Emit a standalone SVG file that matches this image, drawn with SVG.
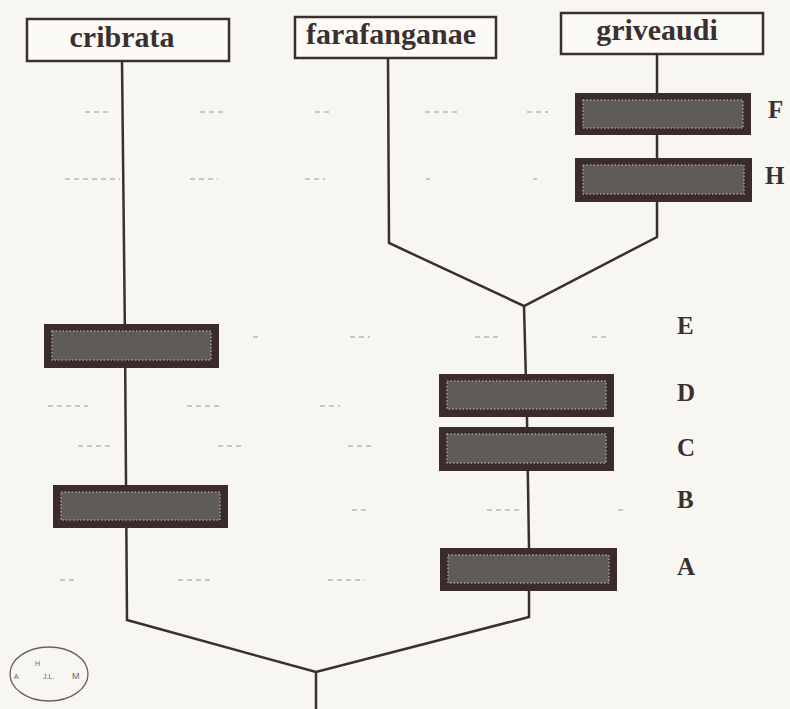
<svg xmlns="http://www.w3.org/2000/svg" width="790" height="709" viewBox="0 0 790 709">
<defs>
<style>
.bg{fill:#f8f6f1}
.lbl{fill:#fbfaf6;stroke:#3a2f2e;stroke-width:2.5}
.ttl{font-family:"Liberation Serif","DejaVu Serif",serif;font-weight:bold;font-size:30px;fill:#3a3030;text-anchor:middle}
.ltr{font-family:"Liberation Serif","DejaVu Serif",serif;font-weight:bold;font-size:25px;fill:#3a3030}
.ln{fill:none;stroke:#3a2f2e;stroke-width:2.5;stroke-linejoin:miter}
.bo{fill:#3b2c2a}
.bi{fill:#5f5b59;stroke:#a59c94;stroke-width:1.5;stroke-dasharray:1.5 2}
.fd{stroke:#b9b5b0;stroke-width:1.3;stroke-dasharray:5 4;fill:none}
.tiny{font-family:"Liberation Sans","DejaVu Sans",sans-serif;font-size:7px;fill:#6a6464}
</style>
</defs>
<rect class="bg" x="0" y="0" width="790" height="709"/>
<g id="faint-marks">
<path class="fd" d="M85 112H108M200 112H225M315 112H330M425 112H457M527 112H548"/>
<path class="fd" d="M65 179H120M190 179H218M305 179H325M426 179H430M533 179H537"/>
<path class="fd" d="M253 337H260M350 337H370M475 337H498M592 337H610"/>
<path class="fd" d="M48 406H88M187 406H220M320 406H340"/>
<path class="fd" d="M78 446H112M218 446H242M348 446H373"/>
<path class="fd" d="M352 510H367M487 510H520M618 510H624"/>
<path class="fd" d="M60 580H76M178 580H210M328 580H365"/>
</g>
<g id="connectors">
<polyline class="ln" points="122,61 125,340 127,620 316,672 529,617 529,591"/>
<polyline class="ln" points="388,58 389,243 524,306 657,237 657,54"/>
<polyline class="ln" points="524,306 527,420 529,548"/>
<line class="ln" x1="316" y1="672" x2="316" y2="709"/>
</g>
<g id="node-cribrata">
<rect class="lbl" x="27" y="19" width="202" height="42"/>
<text class="ttl" x="122" y="47">cribrata</text>
</g>
<g id="node-farafanganae">
<rect class="lbl" x="295" y="17" width="201" height="41"/>
<text class="ttl" x="391" y="44">farafanganae</text>
</g>
<g id="node-griveaudi">
<rect class="lbl" x="561" y="13" width="202" height="41"/>
<text class="ttl" x="657" y="40">griveaudi</text>
</g>
<g id="bar-F">
<rect class="bo" x="575" y="93" width="176" height="42"/>
<rect class="bi" x="583" y="100" width="160" height="28"/>
</g>
<g id="bar-H">
<rect class="bo" x="575" y="158" width="177" height="44"/>
<rect class="bi" x="583" y="165" width="161" height="29"/>
</g>
<g id="bar-E">
<rect class="bo" x="44" y="324" width="175" height="44"/>
<rect class="bi" x="52" y="331" width="159" height="29"/>
</g>
<g id="bar-B">
<rect class="bo" x="53" y="485" width="175" height="43"/>
<rect class="bi" x="61" y="492" width="159" height="28"/>
</g>
<g id="bar-D">
<rect class="bo" x="439" y="374" width="175" height="43"/>
<rect class="bi" x="447" y="381" width="159" height="28"/>
</g>
<g id="bar-C">
<rect class="bo" x="439" y="427" width="175" height="44"/>
<rect class="bi" x="447" y="434" width="159" height="29"/>
</g>
<g id="bar-A">
<rect class="bo" x="440" y="548" width="177" height="43"/>
<rect class="bi" x="448" y="555" width="161" height="28"/>
</g>
<g id="labels">
<text class="ltr" x="768" y="118">F</text>
<text class="ltr" x="765" y="184">H</text>
<text class="ltr" x="677" y="334">E</text>
<text class="ltr" x="677" y="401">D</text>
<text class="ltr" x="677" y="456">C</text>
<text class="ltr" x="677" y="508">B</text>
<text class="ltr" x="677" y="575">A</text>
</g>
<g id="stamp">
<ellipse cx="49" cy="674" rx="39" ry="27" fill="none" stroke="#6a6262" stroke-width="1.3"/>
<text class="tiny" x="35" y="666">H</text>
<text class="tiny" x="14" y="679">A</text>
<text class="tiny" x="43" y="679">J.L.</text>
<text class="tiny" x="72" y="679" style="font-size:9px">M</text>
</g>
</svg>
